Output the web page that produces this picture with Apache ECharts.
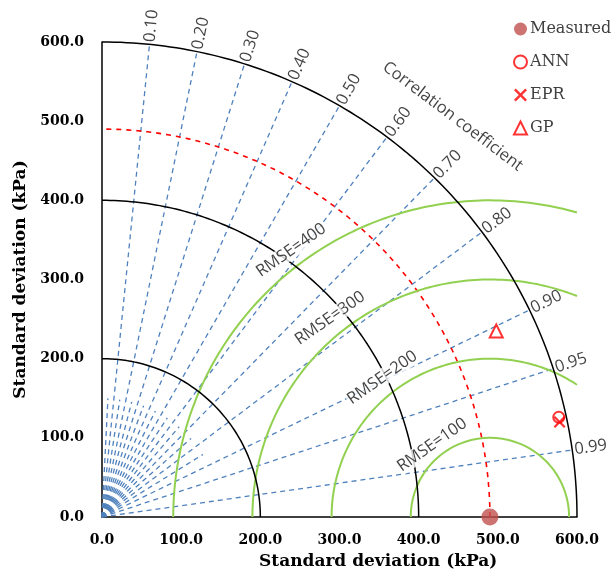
<!DOCTYPE html>
<html>
<head>
<meta charset="utf-8">
<script src="https://cdn.jsdelivr.net/npm/echarts@6/dist/echarts.min.js"></script>
<style>html,body{margin:0;padding:0;background:#fff;}#c{width:613px;height:576px;}</style>
</head>
<body>
<div id="c"></div>
<script>
// ---------------- data ----------------
const sdArcs = [200, 400, 600];             // black std-dev arcs
const refSD = 490;                          // measured std deviation (kPa)
const rmseLevels = [100, 200, 300, 400];    // green RMSE circles
const rmseLabels = ['RMSE=100', 'RMSE=200', 'RMSE=300', 'RMSE=400'];
const corrTicks = [0.1, 0.2, 0.3, 0.4, 0.5, 0.6, 0.7, 0.8, 0.9, 0.95, 0.99];
const corrTickLabels = ['0.10', '0.20', '0.30', '0.40', '0.50', '0.60', '0.70', '0.80', '0.90', '0.95', '0.99'];
const minorCorr = [0.05, 0.15, 0.25, 0.35, 0.45, 0.55, 0.65, 0.75, 0.85];
const axisTickLabels = ['0.0', '100.0', '200.0', '300.0', '400.0', '500.0', '600.0'];
const axisTitle = 'Standard deviation (kPa)';
const seriesNames = ['Measured', 'ANN', 'EPR', 'GP'];
const measured = [490, 0];
const ann = [577, 126];
const epr = [578, 120];
const gp = [498, 235];

// ---------------- build ----------------
const SDMAX = 600;
function arcPts(cx, r, a0, a1, n) {
  const pts = [];
  for (let i = 0; i <= n; i++) {
    const a = a0 + (a1 - a0) * i / n;
    pts.push([cx + r * Math.cos(a), r * Math.sin(a)]);
  }
  return pts;
}
const series = [];
function lineSeries(data, color, width, type, z) {
  series.push({
    type: 'line', data: data, showSymbol: false, symbol: 'none', silent: true,
    lineStyle: { color: color, width: width, type: type }, z: z || 2, clip: false,
    animation: false
  });
}
// minor correlation rays (short)
minorCorr.forEach(c => {
  const a = Math.acos(c);
  lineSeries([[0, 0], [150 * Math.cos(a), 150 * Math.sin(a)]], '#4F81BD', 1.3, [5, 4], 1);
});
// correlation rays
corrTicks.forEach(c => {
  const a = Math.acos(c);
  lineSeries([[0, 0], [SDMAX * Math.cos(a), SDMAX * Math.sin(a)]], '#4F81BD', 1.3, [5, 4], 1);
});
// red reference arc
lineSeries(arcPts(0, refSD, 0, Math.PI / 2, 120), '#FF0000', 1.6, [5, 5], 2);
// green RMSE arcs
rmseLevels.forEach(r => {
  const a0 = (refSD + r > SDMAX) ? Math.acos((SDMAX - refSD) / r) : 0;
  lineSeries(arcPts(refSD, r, a0, Math.PI, 120), '#92D050', 2, 'solid', 3);
});
// black std-dev arcs
sdArcs.forEach(r => {
  lineSeries(arcPts(0, r, 0, Math.PI / 2, 120), '#000', 1.5, 'solid', 4);
});
const sansLabel = { color: '#111', fontFamily: 'Open Sans', fontSize: 16.5 };
// correlation tick labels
series.push({
  type: 'scatter', silent: true, clip: false, symbolSize: 0, z: 6, animation: false,
  data: corrTicks.map((c, i) => {
    const a = Math.acos(c);
    return {
      value: [603 * Math.cos(a), 603 * Math.sin(a)],
      label: { show: true, formatter: corrTickLabels[i], rotate: a * 180 / Math.PI }
    };
  }),
  label: Object.assign({ position: [0, 0], align: 'left', verticalAlign: 'middle' }, sansLabel)
});
// "Correlation coefficient" title
series.push({
  type: 'scatter', silent: true, clip: false, symbolSize: 0, z: 6, animation: false,
  data: [{ value: [443, 506], label: { show: true, formatter: 'Correlation coefficient', rotate: -37 } }],
  label: Object.assign({ position: [0, 0], align: 'center', verticalAlign: 'middle' }, sansLabel)
});
// RMSE labels
const rmseLabelPos = [[417, 91], [354, 176], [288, 251], [239, 337]];
series.push({
  type: 'scatter', silent: true, clip: false, symbolSize: 0, z: 7, animation: false,
  data: rmseLevels.map((r, i) => ({
    value: rmseLabelPos[i],
    label: { show: true, formatter: rmseLabels[i], rotate: 35 }
  })),
  label: Object.assign({ position: [0, 0], align: 'center', verticalAlign: 'middle',
           backgroundColor: '#fff', padding: [0, 1] }, sansLabel)
});
// model points
const xPath = 'path://M0,1.6 L1.6,0 L6,4.4 L10.4,0 L12,1.6 L7.6,6 L12,10.4 L10.4,12 L6,7.6 L1.6,12 L0,10.4 L4.4,6 Z';
series.push({ name: seriesNames[0], type: 'scatter', data: [measured], symbol: 'circle', symbolSize: 17,
  itemStyle: { color: '#C0504D' }, z: 10, clip: false, animation: false });
series.push({ name: seriesNames[1], type: 'scatter', data: [ann], symbol: 'emptyCircle', symbolSize: 11,
  itemStyle: { color: '#FF0000', borderColor: '#FF0000', borderWidth: 2.2 }, z: 10, clip: false, animation: false });
series.push({ name: seriesNames[2], type: 'scatter', data: [epr], symbol: xPath, symbolSize: 12,
  itemStyle: { color: '#FF0000' }, z: 10, clip: false, animation: false });
series.push({ name: seriesNames[3], type: 'scatter', data: [gp], symbol: 'emptyTriangle', symbolSize: 13,
  itemStyle: { color: '#FF0000', borderColor: '#FF0000', borderWidth: 2 }, z: 10, clip: false, animation: false });

const axisLabelStyle = { fontFamily: 'DejaVu Serif', fontWeight: 'bold', fontSize: 14, color: '#000' };
const nameStyle = { fontFamily: 'DejaVu Serif', fontWeight: 'bold', fontSize: 17, color: '#000' };

const option = {
  backgroundColor: '#fff',
  animation: false,
  grid: { left: 102, top: 42, width: 475, height: 475, containLabel: false, outerBoundsMode: 'none' },
  legend: {
    data: seriesNames, orient: 'vertical', left: 508, top: 16,
    itemWidth: 13, itemHeight: 13, itemGap: 17,
    textStyle: { fontFamily: 'DejaVu Serif', fontSize: 16, color: '#404040', lineHeight: 16, padding: [0, 0, 0, -2] },
    selectedMode: false
  },
  graphic: [{
    type: 'text', left: 377 - 118, top: 553, silent: true,
    style: Object.assign({ text: axisTitle, fill: '#000', font: 'bold 17px "DejaVu Serif"' })
  }],
  xAxis: {
    type: 'value', min: 0, max: 600, interval: 100,
    axisLine: { show: true, lineStyle: { color: '#000', width: 1.5 } },
    axisTick: { show: false }, splitLine: { show: false },
    axisLabel: Object.assign({ margin: 16, formatter: v => axisTickLabels[Math.round(v / 100)] }, axisLabelStyle)
  },
  yAxis: {
    type: 'value', min: 0, max: 600, interval: 100,
    axisLine: { show: true, lineStyle: { color: '#000', width: 1.5 } },
    axisTick: { show: false }, splitLine: { show: false },
    axisLabel: Object.assign({ margin: 18, formatter: v => axisTickLabels[Math.round(v / 100)] }, axisLabelStyle),
    name: axisTitle, nameLocation: 'middle', nameGap: 71, nameTextStyle: nameStyle
  },
  series: series
};
const chart = echarts.init(document.getElementById('c'), null, { renderer: 'canvas' });
chart.setOption(option);
</script>
</body>
</html>
